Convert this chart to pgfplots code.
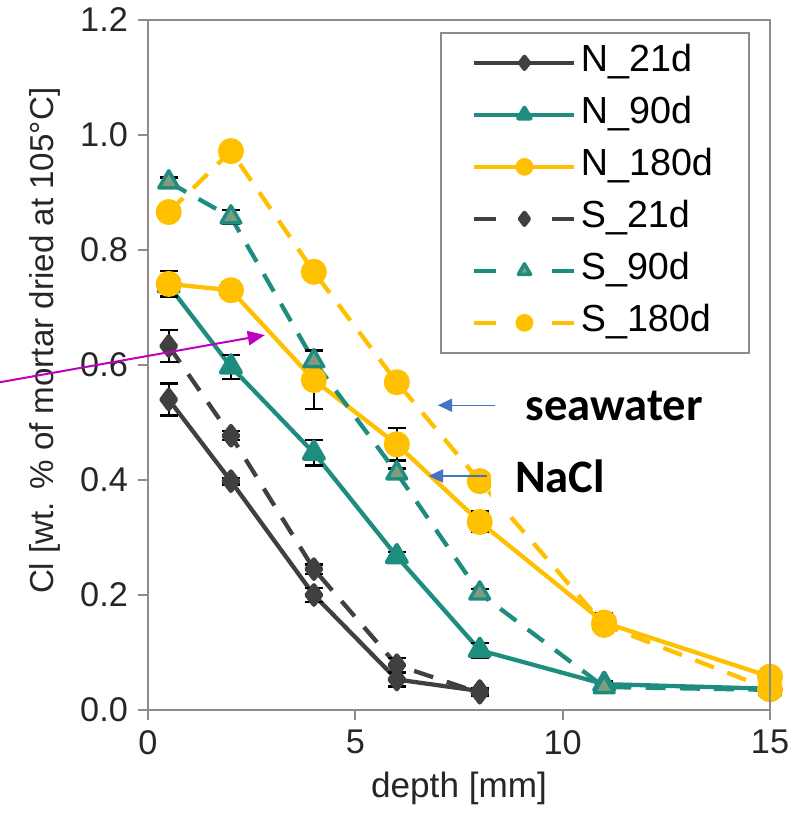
\documentclass[border=0pt]{standalone}
\usepackage{fontspec}
\setmainfont{Liberation Sans}
\newfontfamily\calib{Carlito}
\usepackage{pgfplots}
\pgfplotsset{compat=1.18}
\usetikzlibrary{arrows.meta}

\definecolor{cgray}{HTML}{404040}
\definecolor{cteal}{HTML}{1E8C7E}
\definecolor{cgold}{HTML}{FFC000}
\definecolor{cgreen}{HTML}{809C80}
\definecolor{cmag}{HTML}{C000C0}
\definecolor{cblue}{HTML}{4472C4}
\definecolor{cframe}{HTML}{8C8C8C}

\pgfplotsset{
  ebar/.style={error bars/.cd, y dir=both, y explicit,
    error bar style={black,line width=0.8pt,solid},
    error mark options={rotate=90,black,mark size=3.2pt,line width=0.8pt,solid}},
  dashed ser/.style={dash pattern=on 7pt off 5pt,
    legend image post style={dash pattern=on 7.7pt off 19.6pt}},
}

\begin{document}
\begin{tikzpicture}
\begin{axis}[
  scale only axis,
  width=217.7pt, height=241.5pt,
  xmin=0, xmax=15, ymin=0, ymax=1.2,
  xtick={0,5,10,15},
  ytick={0,0.2,0.4,0.6,0.8,1.0,1.2},
  yticklabel style={/pgf/number format/.cd,fixed,fixed zerofill,precision=1},
  /pgf/number format/assume math mode=true,
  tick label style={font=\fontsize{12}{14}\selectfont, text=black!85},
  label style={font=\fontsize{11.6}{14}\selectfont, text=black!85},
  axis line style={cframe, line width=0.8pt},
  tick style={cframe, line width=0.8pt},
  tick align=outside, tick pos=left,
  major tick length=3.5pt,
  xlabel={depth [mm]},
  ylabel={Cl [wt. \% of mortar dried at 105°C]},
  xlabel style={at={(axis description cs:0.5,0)}, anchor=base, yshift=-30.5pt, font=\fontsize{12.3}{14}\selectfont},
  ylabel style={at={(axis description cs:-0.1656,0.535)}, anchor=center},
  clip=false,
  every axis plot/.append style={line width=1.5pt, line join=round},
  legend style={at={(0.4695,0.9826)}, anchor=north west,
    draw=cframe, line width=0.6pt, fill=white,
    font=\fontsize{13.2}{15}\selectfont,
    row sep=3.2pt, inner xsep=11pt, inner ysep=3pt,
    nodes={text height=9pt, text depth=3pt, inner sep=1.5pt}},
  legend cell align=left,
  legend image code/.code={\draw[mark repeat=2,mark phase=2,#1]
    plot coordinates {(0pt,0pt) (17.5pt,0pt) (35pt,0pt)};},
  legend image post style={/tikz/every mark/.append style={scale=0.62}},
]
% N_21d
\addplot+[cgray, mark=diamond*, mark size=3.4pt, mark options={solid,fill=cgray}, ebar]
coordinates {(0.5,0.540) +- (0,0.028) (2,0.398) +- (0,0.006) (4,0.200) +- (0,0.012)
(6,0.053) +- (0,0.012) (8,0.033) +- (0,0.005)};
\addlegendentry{N\_21d}
% N_90d
\addplot+[cteal, mark=triangle*, mark size=4pt, mark options={solid,fill=cteal}, ebar]
coordinates {(0.5,0.738) +- (0,0.010) (2,0.597) +- (0,0.021) (4,0.447) +- (0,0.022)
(6,0.267) +- (0,0.008) (8,0.104) +- (0,0.013) (11,0.045) +- (0,0.005) (15,0.037) +- (0,0.003)};
\addlegendentry{N\_90d}
% N_180d
\addplot+[cgold, mark=*, mark size=3.8pt, mark options={solid,fill=cgold}, ebar]
coordinates {(0.5,0.741) +- (0,0.022) (2,0.730) +- (0,0.010) (4,0.574) +- (0,0.050)
(6,0.462) +- (0,0.028) (8,0.327) +- (0,0.018) (11,0.152) +- (0,0.017) (15,0.058) +- (0,0.004)};
\addlegendentry{N\_180d}
% S_21d
\addplot+[cgray, dashed ser, mark=diamond*, mark size=3.4pt, mark options={solid,fill=cgray}, ebar]
coordinates {(0.5,0.633) +- (0,0.028) (2,0.477) +- (0,0.008) (4,0.245) +- (0,0.008)
(6,0.078) +- (0,0.012) (8,0.030) +- (0,0.005)};
\addlegendentry{S\_21d}
% S_90d
\addplot+[cteal, dashed ser, mark=triangle*, mark size=4pt, mark options={solid,fill=cgreen,draw=cteal,line width=1.2pt}, ebar]
coordinates {(0.5,0.918) +- (0,0.008) (2,0.857) +- (0,0.012) (4,0.607) +- (0,0.018)
(6,0.412) +- (0,0.008) (8,0.203) +- (0,0.008) (11,0.040) +- (0,0.005) (15,0.035) +- (0,0.003)};
\addlegendentry{S\_90d}
% S_180d
\addplot+[cgold, dashed ser, mark=*, mark size=3.8pt, mark options={solid,fill=cgold}]
coordinates {(0.5,0.866) (2,0.972) (4,0.762) (6,0.570) (8,0.398) (11,0.148) (15,0.036)};
\addlegendentry{S\_180d}

% anchor points for the annotations
\coordinate (wb1) at (axis cs:8.28,0.339);
\coordinate (wb2) at (axis cs:11.5,0.47);
\coordinate (m1) at (axis cs:-3.57,0.570);
\coordinate (m2) at (axis cs:2.82,0.652);
\coordinate (s1) at (axis cs:8.36,0.530);
\coordinate (s2) at (axis cs:6.99,0.530);
\coordinate (n1) at (axis cs:8.17,0.407);
\coordinate (n2) at (axis cs:6.77,0.407);
\coordinate (st) at (axis cs:9.1,0.504);
\coordinate (nt) at (axis cs:8.84,0.379);
\end{axis}
\draw[cframe, line width=0.8pt] (current axis.north west) -- (current axis.north east) -- (current axis.south east);
\fill[white] (wb1) rectangle (wb2);
\draw[cmag, line width=0.7pt, -{Triangle[length=6pt,width=5pt]}] (m1) -- (m2);
\draw[cblue, line width=0.5pt, -{Triangle[length=5pt,width=4.6pt]}] (s1) -- (s2);
\draw[cblue, line width=0.5pt, -{Triangle[length=5pt,width=4.6pt]}] (n1) -- (n2);
\node[anchor=base west, inner sep=0pt, font=\calib\bfseries\fontsize{16.3}{18}\selectfont]
  at (st) {seawater};
\node[anchor=base west, inner sep=0pt, font=\calib\bfseries\fontsize{16.3}{18}\selectfont]
  at (nt) {NaCl};
\pgfresetboundingbox
\path[use as bounding box] ([xshift=-51.8pt,yshift=-37.1pt]current axis.south west)
  rectangle ([xshift=13.65pt,yshift=7pt]current axis.north east);
\end{tikzpicture}
\end{document}
